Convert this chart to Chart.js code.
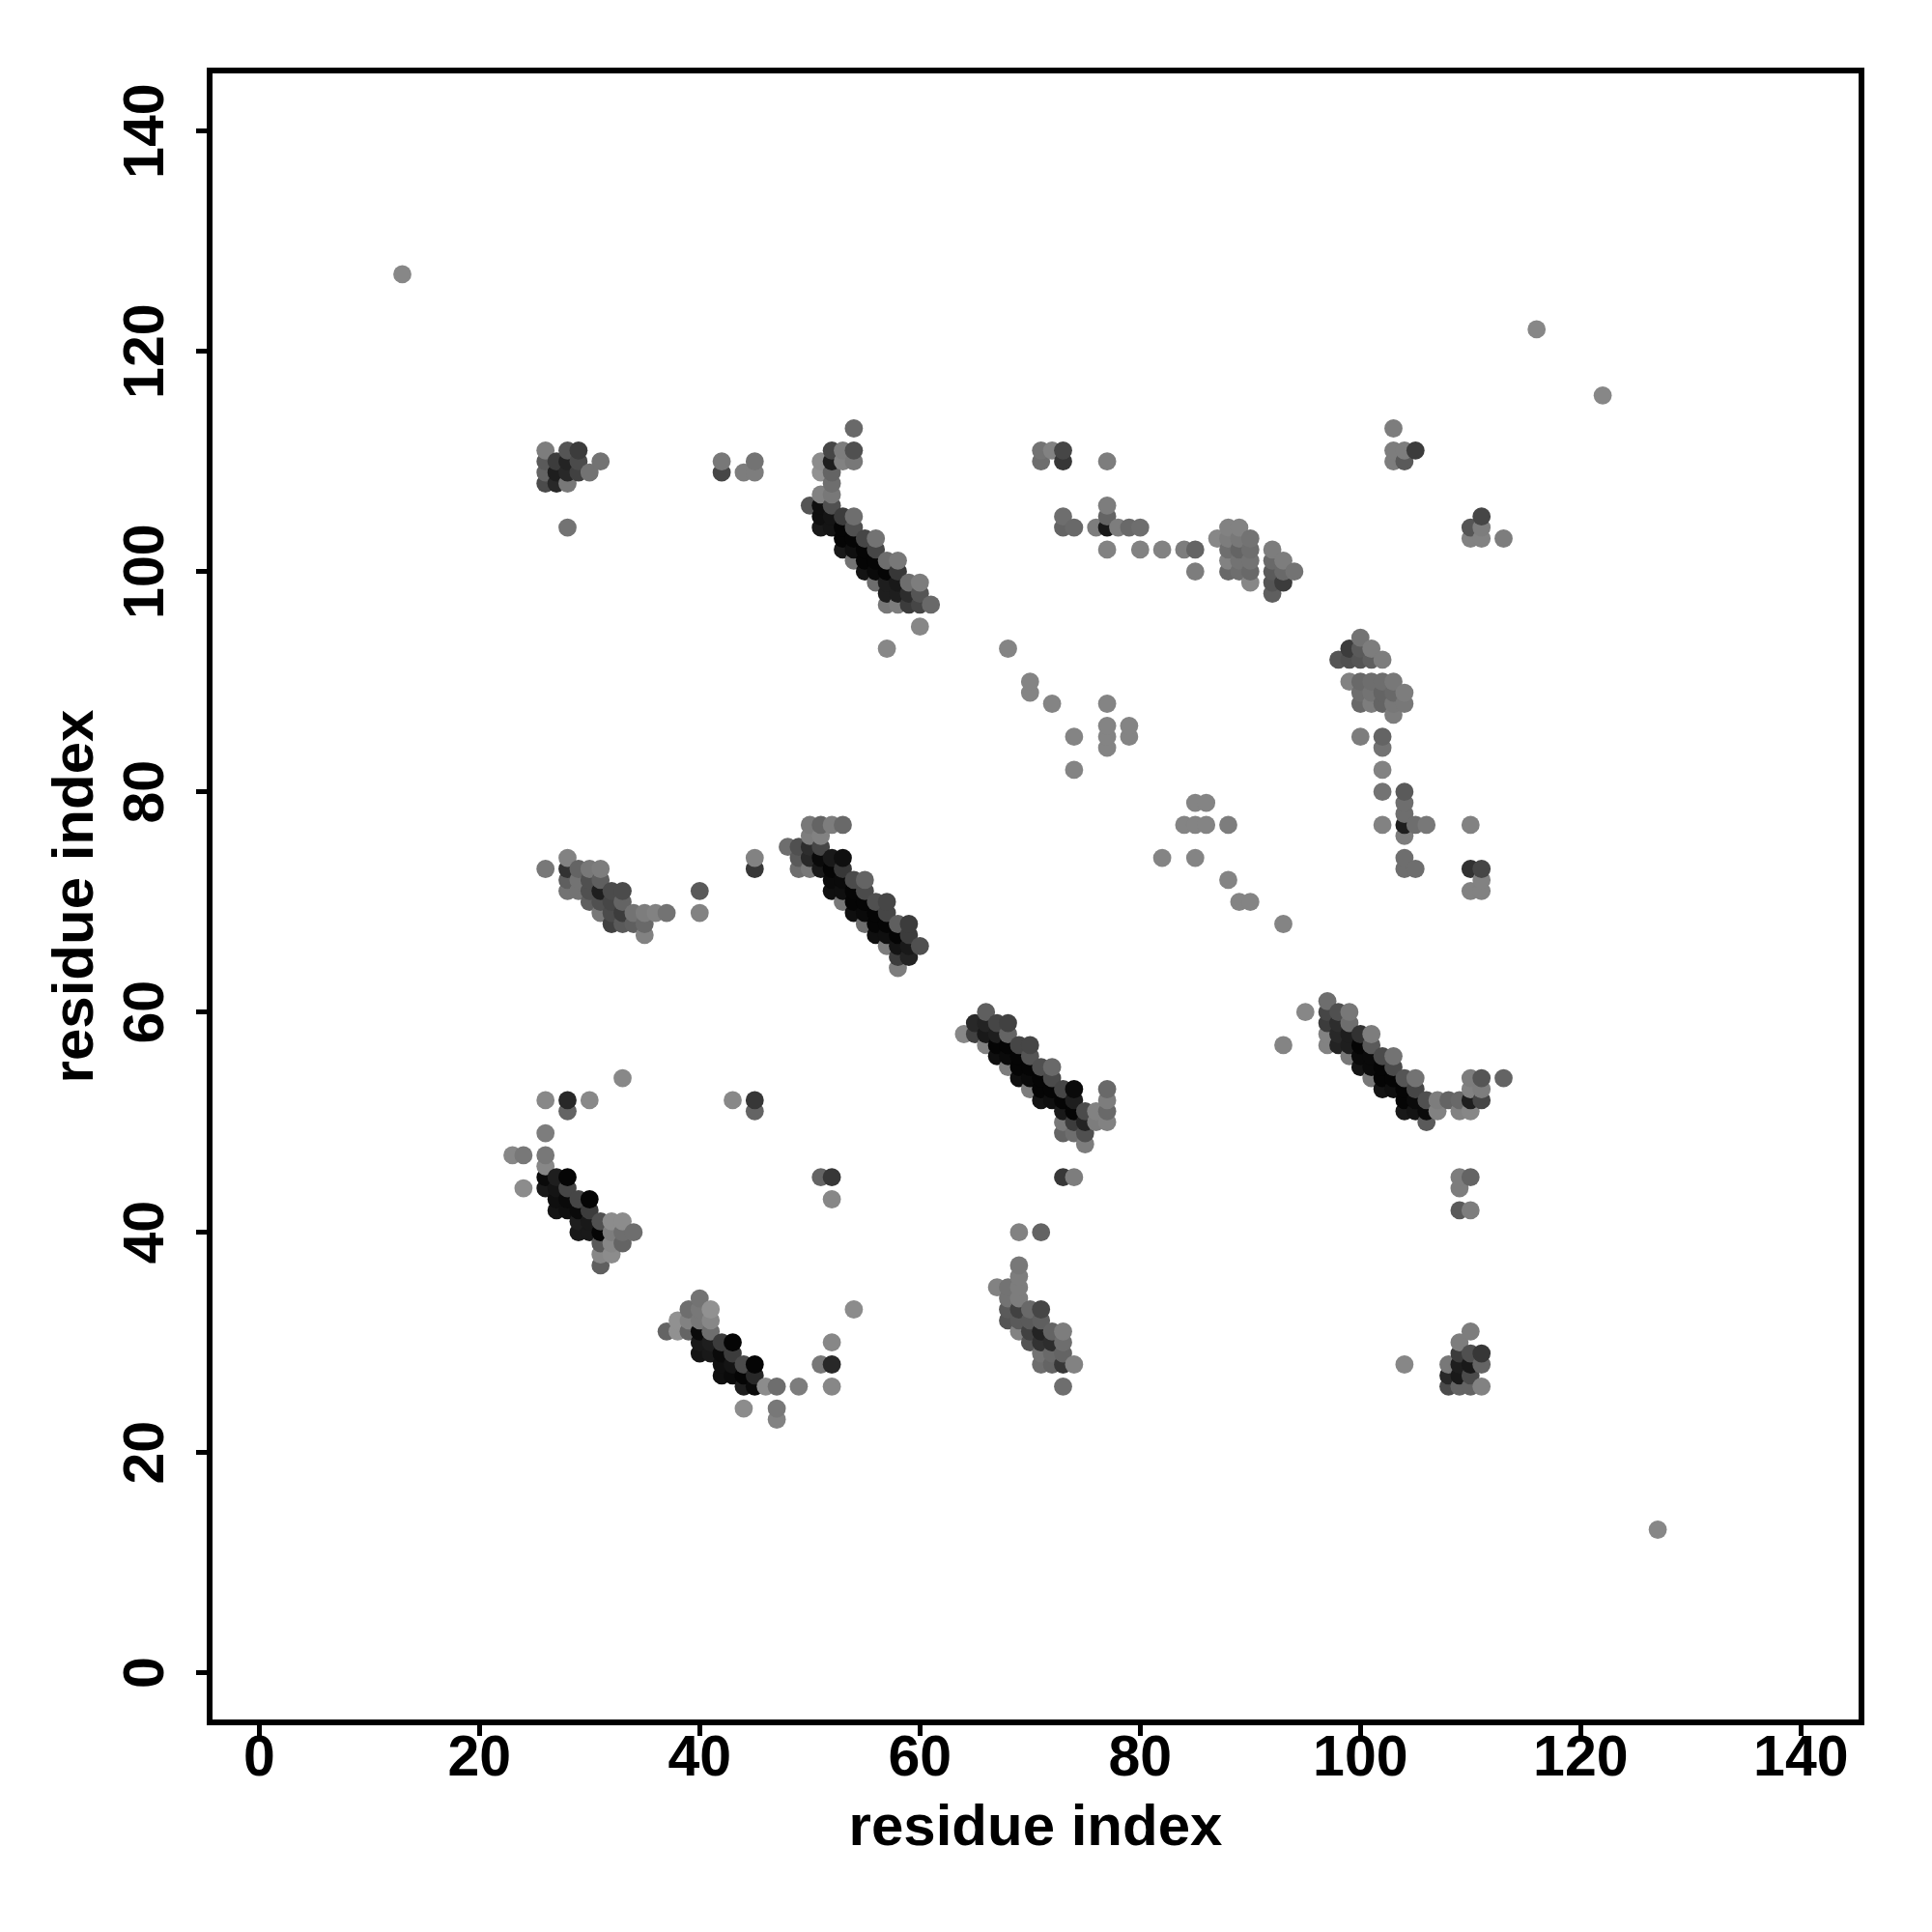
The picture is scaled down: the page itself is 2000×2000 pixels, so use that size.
<!DOCTYPE html>
<html>
<head>
<meta charset="utf-8">
<title>residue contact map</title>
<script src="https://cdn.jsdelivr.net/npm/chart.js@4"></script>
<style>
  body { margin: 0; background: #fff; }
  canvas { display: block; }
</style>
</head>
<body>
<canvas id="contactMap" width="2000" height="2000"></canvas>
<script>
// contacts: [residue i, residue j, grey level]
const isolated = [[13,127,135],[127,13,135],[116,122,135],[122,116,135],[57,93,135],[68,93,132],[70,90,132],[70,89,132],[72,88,132],
  [74,85,132],[74,82,132],[77,88,132],[77,86,132],[77,85,132],[77,84,132],[79,86,132],[79,85,132],[93,68,132],[89,70,132],[90,70,132],
  [88,72,132],[85,74,132],[82,74,132],[85,79,132],[86,79,132],[84,77,132],[85,77,132],[86,77,132],[88,77,125],[93,57,132],[95,60,135],
  [104,28,135],[40,71,90],[40,69,130],[45,74,130],[45,73,55],[69,40,130],[71,40,100]];
const lowerLeft = [[33,54,136],[26,52,136],[28,52,40],[30,52,136],[28,51,100],[26,49,125],[23,47,135],[24,47,120],[26,47,120],[26,46,135],
  [26,45,10],[27,45,30],[28,45,5],[24,44,140],[26,44,25],[27,44,20],[28,44,70],[27,43,15],[28,43,10],[29,43,70],[30,43,5],
  [27,42,20],[28,42,15],[29,42,10],[30,42,60],[29,41,30],[30,41,25],[31,41,80],[32,41,140],[33,41,140],
  [29,40,25],[30,40,25],[31,40,5],[32,40,125],[33,40,110],[34,40,110],[31,39,90],[32,39,135],[33,39,100],[31,38,135],[32,38,140],[31,37,95],
  [43,52,136],[45,52,55],[45,51,100],[51,45,100],[52,45,55],[52,43,135]];
const strandB = [[40,34,115],[39,33,110],[40,33,120],[41,33,145],[38,32,145],[39,32,130],[40,32,120],[41,32,135],
  [37,31,100],[38,31,145],[39,31,100],[40,31,10],[41,31,110],[40,30,25],[41,30,30],[42,30,60],[43,30,5],
  [40,29,20],[41,29,25],[42,29,10],[43,29,60],[42,28,15],[43,28,20],[44,28,75],[45,28,5],[42,27,15],[43,27,10],[44,27,5],[45,27,40],
  [44,26,30],[45,26,10],[46,26,140],[47,26,110],[49,26,125],[52,26,135],[54,33,140],[52,30,135],[51,28,120],[52,28,40],[44,24,140],[47,24,120],[47,23,130]];
const upperLeft = [[26,111,125],[28,111,85],[29,111,60],[26,110,90],[27,110,60],[28,110,35],[29,110,75],[31,110,115],
  [26,109,100],[27,109,30],[28,109,40],[29,109,65],[30,109,115],[26,108,75],[27,108,40],[28,108,120],[28,104,115],
  [42,110,120],[42,109,70],[44,109,125],[45,110,115],[45,109,125]];
const strandC = [[54,113,105],[52,111,70],[53,111,125],[54,111,80],[51,110,140],[52,110,30],[53,110,130],[54,110,120],[51,109,145],[52,109,100],
  [52,108,110],[51,107,130],[52,107,120],[50,106,85],[51,106,15],[52,106,80],[51,105,15],[52,105,20],[53,105,60],[54,105,110],
  [51,104,25],[52,104,20],[53,104,5],[54,104,80],[53,103,5],[54,103,5],[55,103,70],[56,103,115],[53,102,25],[54,102,15],[55,102,5],[56,102,70],
  [54,101,115],[55,101,5],[56,101,5],[57,101,110],[58,101,120],[55,100,20],[56,100,10],[57,100,5],[58,100,55],
  [56,99,110],[57,99,30],[58,99,25],[59,99,110],[60,99,125],[57,98,30],[58,98,30],[59,98,45],[60,98,85],
  [57,97,120],[58,97,125],[59,97,60],[60,97,70],[61,97,105],[60,95,135]];
const strandD = [[50,77,120],[51,77,100],[52,77,125],[53,77,105],[50,76,125],[51,76,130],[48,75,110],[49,75,80],[50,75,45],[51,75,70],
  [49,74,90],[50,74,40],[51,74,10],[52,74,25],[53,74,15],[49,73,110],[50,73,120],[51,73,25],[52,73,5],[53,73,55],
  [52,72,10],[53,72,10],[54,72,75],[55,72,100],[52,71,15],[53,71,15],[54,71,5],[55,71,75],[53,70,120],[54,70,5],[55,70,5],[56,70,80],[57,70,70],
  [54,69,15],[55,69,10],[56,69,5],[57,69,70],[55,68,110],[56,68,5],[57,68,5],[58,68,95],[59,68,60],[56,67,15],[57,67,15],[58,67,5],[59,67,60],
  [57,66,125],[58,66,20],[59,66,25],[60,66,80],[58,65,60],[59,65,35],[58,64,125]];
const strandE = [[26,73,120],[28,74,130],[28,73,50],[28,72,95],[28,71,115],[29,73,100],[29,72,115],[29,71,115],[30,73,120],[30,72,80],[30,71,80],[30,70,95],
  [31,73,125],[31,72,95],[31,71,30],[31,70,80],[31,69,120],[32,71,75],[32,70,70],[32,69,75],[32,68,65],[33,71,75],[33,70,100],[33,69,60],[33,68,90],
  [34,69,115],[34,68,95],[35,69,125],[35,68,105],[35,67,130],[36,69,130],[37,69,115]];
const strandF = [[66,60,95],[65,59,40],[66,59,35],[67,59,70],[68,59,65],[64,58,135],[65,58,65],[66,58,25],[67,58,30],[68,58,100],[66,57,130],
  [67,57,5],[68,57,5],[69,57,70],[70,57,70],[67,56,15],[68,56,10],[69,56,5],[70,56,85],[68,55,125],[69,55,5],[70,55,5],[71,55,80],[72,55,105],
  [69,54,15],[70,54,10],[71,54,5],[72,54,75],[70,53,125],[71,53,5],[72,53,5],[73,53,70],[74,53,10],[71,52,20],[72,52,15],[73,52,5],[74,52,30],
  [73,51,25],[74,51,5],[75,51,75],[76,51,130],[77,51,105],[77,53,105],[77,52,125],[73,50,120],[74,50,60],[75,50,35],[76,50,125],[77,50,130],
  [73,49,100],[74,49,110],[75,49,80],[75,48,125],[73,45,55],[74,45,125]];
const strandG = [[97,61,110],[97,60,70],[97,59,60],[97,58,130],[97,57,130],[98,60,80],[98,59,45],[98,58,40],[98,57,35],[99,60,120],[99,59,110],[99,58,30],[99,57,30],[99,56,120],
  [100,58,50],[100,57,5],[100,56,10],[100,55,20],[101,58,125],[101,57,90],[101,56,10],[101,55,10],[101,54,120],[102,56,75],[102,55,5],[102,54,5],[102,53,20],
  [103,56,115],[103,55,75],[103,54,5],[103,53,15],[104,54,85],[104,53,5],[104,52,5],[104,51,25],[105,54,115],[105,53,70],[105,52,10],[105,51,20],
  [106,52,80],[106,51,10],[106,50,90],[107,52,125],[107,51,130],[108,52,100],[109,52,105],[109,51,130],[110,54,125],[110,53,130],[110,52,30],[110,51,135],
  [111,54,85],[111,53,125],[111,52,70],[113,54,100],[109,45,125],[110,45,100],[109,44,125],[109,42,90],[110,42,125]];
const strandH = [[67,35,130],[68,35,115],[68,34,115],[68,33,90],[68,32,85],[69,37,120],[69,36,125],[69,35,125],[69,34,125],[69,33,65],[69,32,90],[69,31,130],
  [70,33,105],[70,32,90],[70,31,65],[70,30,85],[71,33,70],[71,32,95],[71,31,35],[71,30,50],[71,29,115],[71,28,110],
  [72,31,100],[72,30,45],[72,29,105],[72,28,100],[73,31,125],[73,30,110],[73,29,100],[73,28,55],[74,28,130],[73,26,110]];
const upperMiddle = [[71,111,115],[71,110,110],[72,111,130],[73,111,70],[73,110,55],[77,110,125],
  [73,105,110],[73,104,100],[74,104,105],[76,104,125],[77,106,125],[77,105,100],[77,104,25],[77,102,130],[78,104,125],[79,104,105],[80,104,110],
  [80,102,130],[82,102,130],[84,102,125],[85,102,100],[85,100,125],[87,103,135],[88,104,130],[88,103,125],[88,102,110],[88,101,130],[88,100,105],
  [89,104,130],[89,103,120],[89,102,100],[89,101,115],[89,100,110],[90,103,115],[90,102,110],[90,101,115],[90,100,105],[90,99,135],
  [92,102,125],[92,101,105],[92,100,90],[92,99,85],[92,98,95],[93,101,125],[93,100,105],[93,99,60],[94,100,115]];
const upperRight = [[103,113,125],[103,111,125],[104,111,125],[105,111,60],[103,110,125],[104,110,90],
  [110,104,85],[111,105,70],[111,104,125],[110,103,130],[111,103,130],[113,103,125]];
const rightColumn = [[98,92,85],[99,93,60],[99,92,80],[100,94,115],[100,93,90],[100,92,85],[101,93,125],[101,92,95],[102,92,125],
  [99,90,130],[100,90,105],[101,90,110],[102,90,110],[103,90,120],[100,89,110],[101,89,115],[102,89,100],[103,89,105],[104,89,125],
  [100,88,105],[101,88,125],[102,88,100],[103,88,120],[104,88,120],[103,87,125],[100,85,125],[102,85,100],[102,84,115],
  [102,82,130],[102,80,115],[102,77,130],[104,80,90],[104,79,110],[104,78,110],[104,77,30],[104,76,125],[105,77,110],[106,77,120],
  [104,74,110],[104,73,110],[105,73,110],[110,77,130],[110,73,50],[111,73,70],[111,72,130],[110,71,130],[111,71,130]];
const lowerRight = [[110,31,125],[109,30,125],[109,29,60],[109,28,30],[109,27,25],[109,26,100],[108,28,120],[108,27,40],[108,26,75],
  [110,29,80],[110,28,25],[110,27,75],[110,26,100],[111,29,55],[111,28,100],[111,26,130]];

const tickValues = [0, 20, 40, 60, 80, 100, 120, 140];
const axisTitle = 'residue index';

// points overlap, later rows sit on top, so keep the i then j order of the source plot
const contacts = [].concat(isolated, lowerLeft, strandB, upperLeft, strandC, strandD, strandE, strandF,
  strandG, strandH, upperMiddle, upperRight, rightColumn, lowerRight)
  .sort((a, b) => a[0] - b[0] || a[1] - b[1]);

const frameBox = {
  id: 'frameBox',
  afterDraw(chart) {
    const { ctx, chartArea: a } = chart;
    ctx.save();
    ctx.strokeStyle = '#000';
    ctx.lineWidth = 6;
    ctx.strokeRect(a.left, a.top, a.right - a.left, a.bottom - a.top);
    ctx.restore();
  }
};

function axisOptions(isY) {
  return {
    type: 'linear',
    min: -4.5,
    max: 145.5,
    afterBuildTicks(scale) {
      scale.ticks = tickValues.map(v => ({ value: v }));
    },
    afterFit(scale) {
      if (isY) scale.width = 217;
      else scale.height = 217;
    },
    border: { display: false },
    grid: { drawOnChartArea: false, drawTicks: true, tickLength: 14, tickWidth: 5, tickColor: '#000' },
    ticks: {
      color: '#000',
      font: { family: 'Liberation Sans', weight: 'bold', size: 59 },
      padding: isY ? 1 : -11,
      autoSkip: false,
      minRotation: isY ? 90 : 0,
      maxRotation: isY ? 90 : 0,
      crossAlign: isY ? 'center' : 'near',
      callback: v => String(v)
    },
    title: {
      display: true,
      text: axisTitle,
      color: '#000',
      font: { family: 'Liberation Sans', weight: 'bold', size: 60 },
      padding: isY ? { top: 43, bottom: 0 } : { top: 0, bottom: 71 }
    }
  };
}

new Chart(document.getElementById('contactMap').getContext('2d'), {
  type: 'scatter',
  data: {
    datasets: [{
      data: contacts.map(c => ({ x: c[0], y: c[1] })),
      backgroundColor: contacts.map(c => `rgb(${c[2]},${c[2]},${c[2]})`),
      borderWidth: 0,
      pointRadius: 9.4,
      pointHoverRadius: 9.4
    }]
  },
  options: {
    responsive: false,
    animation: false,
    layout: { padding: { top: 73, right: 73, left: 0, bottom: 0 } },
    plugins: { legend: { display: false }, tooltip: { enabled: false } },
    scales: { x: axisOptions(false), y: axisOptions(true) }
  },
  plugins: [frameBox]
});
</script>
</body>
</html>
